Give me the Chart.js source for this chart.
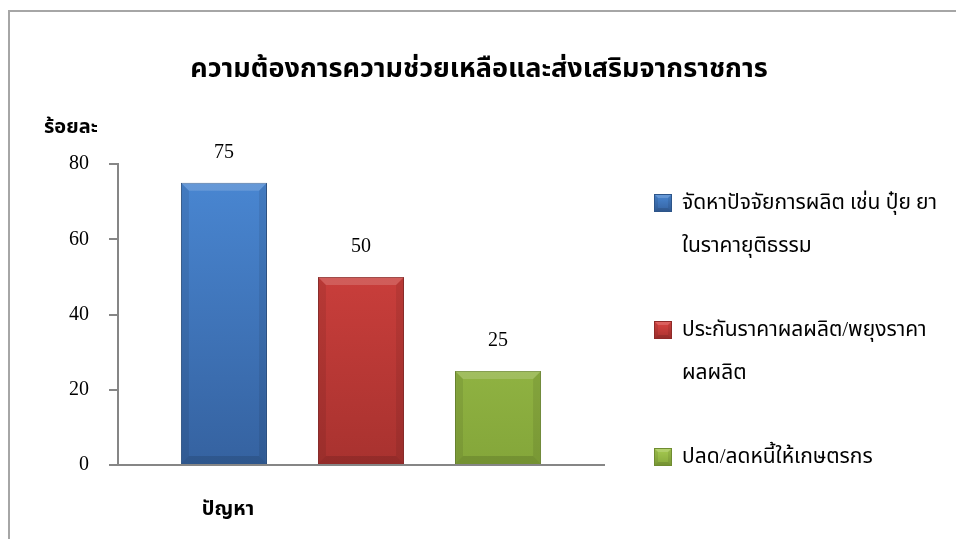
<!DOCTYPE html>
<html>
<head>
<meta charset="utf-8">
<script src="https://cdn.jsdelivr.net/npm/chart.js@4.4.1/dist/chart.umd.min.js"></script>
<style>
    body { margin: 0; background: #fff; }
    #wrap { position: relative; width: 956px; height: 539px; }
    #frame { position: absolute; left: 8px; top: 10px; right: -4px; bottom: -4px; border-left: 2px solid #a6a6a6; border-top: 2px solid #a6a6a6; }
    canvas { position: absolute; left: 0; top: 0; }
</style>
</head>
<body>
<div id="wrap">
    <div id="frame"></div>
    <canvas id="chart" width="956" height="539"></canvas>
</div>
<script>
// ข้อมูลของกราฟ
const chartTitle = 'ความต้องการความช่วยเหลือและส่งเสริมจากราชการ';
const yAxisName = 'ร้อยละ';
const categories = ['ปัญหา'];
const seriesLabels = [
    ['จัดหาปัจจัยการผลิต เช่น ปุ๋ย ยา', 'ในราคายุติธรรม'],
    ['ประกันราคาผลผลิต/พยุงราคา', 'ผลผลิต'],
    ['ปลด/ลดหนี้ให้เกษตรกร']
];
const seriesValues = [75, 50, 25];
const yTicks = [0, 20, 40, 60, 80];
const colorsTop = ['#4a88d4', '#dc4542', '#a8cc52'];
const colorsBottom = ['#3562a0', '#a8322f', '#84a63a'];
const colorsBorder = ['#2d5589', '#8e2a28', '#6f8c31'];

const thaiFont = "'Liberation Serif', 'Noto Sans Thai', 'Noto Serif Thai', serif";

// ไล่สีแท่งกราฟตามพื้นที่กราฟ
function barGradient(i) {
    return function (ctx) {
        const area = ctx.chart.chartArea;
        if (!area) return colorsTop[i];
        const g = ctx.chart.ctx.createLinearGradient(0, area.top, 0, area.bottom);
        g.addColorStop(0, colorsTop[i]);
        g.addColorStop(1, colorsBottom[i]);
        return g;
    };
}

// ขอบนูนของแท่ง (ด้านบนสว่าง ด้านข้างเข้ม)
function drawBevel(ctx, x0, x1, y0, y1, b) {
    ctx.fillStyle = 'rgba(255,255,255,0.16)';
    ctx.beginPath();
    ctx.moveTo(x0, y0); ctx.lineTo(x1, y0); ctx.lineTo(x1 - b, y0 + b); ctx.lineTo(x0 + b, y0 + b);
    ctx.closePath(); ctx.fill();
    ctx.fillStyle = 'rgba(0,0,0,0.08)';
    ctx.beginPath();
    ctx.moveTo(x0, y0); ctx.lineTo(x0 + b, y0 + b); ctx.lineTo(x0 + b, y1 - b); ctx.lineTo(x0, y1);
    ctx.closePath(); ctx.fill();
    ctx.beginPath();
    ctx.moveTo(x1, y0); ctx.lineTo(x1 - b, y0 + b); ctx.lineTo(x1 - b, y1 - b); ctx.lineTo(x1, y1);
    ctx.closePath(); ctx.fill();
    ctx.fillStyle = 'rgba(0,0,0,0.12)';
    ctx.beginPath();
    ctx.moveTo(x0, y1); ctx.lineTo(x0 + b, y1 - b); ctx.lineTo(x1 - b, y1 - b); ctx.lineTo(x1, y1);
    ctx.closePath(); ctx.fill();
}

// ตัวเขียนข้อความเพิ่มเติม: ชื่อกราฟ ชื่อแกน ค่าบนแท่ง และคำอธิบาย
const extrasPlugin = {
    id: 'extras',
    afterDatasetsDraw(chart) {
        const ctx = chart.ctx;
        ctx.save();

        // ขอบนูนบนแท่ง
        chart.data.datasets.forEach((ds, i) => {
            const bar = chart.getDatasetMeta(i).data[0];
            const half = bar.width / 2;
            drawBevel(ctx, bar.x - half, bar.x + half, bar.y, bar.base, 8);
        });

        ctx.fillStyle = '#000';
        ctx.textBaseline = 'middle';

        // ชื่อกราฟ
        ctx.font = 'bold 27px ' + thaiFont;
        ctx.textAlign = 'center';
        ctx.fillText(chartTitle, 479, 70);

        // ชื่อแกน y
        ctx.font = 'bold 20px ' + thaiFont;
        ctx.textAlign = 'left';
        ctx.fillText(yAxisName, 44, 128);

        // ชื่อหมวดหมู่
        ctx.textAlign = 'center';
        ctx.fillText(categories[0], 228, 510);

        // ค่าบนแท่ง
        ctx.font = '20px ' + thaiFont;
        chart.data.datasets.forEach((ds, i) => {
            const bar = chart.getDatasetMeta(i).data[0];
            ctx.fillText(String(ds.data[0]), bar.x, bar.y - 30);
        });

        // คำอธิบายสัญลักษณ์
        let y = 203;
        chart.data.datasets.forEach((ds, i) => {
            const g = ctx.createLinearGradient(0, y - 9, 0, y + 9);
            g.addColorStop(0, colorsTop[i]);
            g.addColorStop(1, colorsBottom[i]);
            ctx.fillStyle = g;
            ctx.fillRect(654, y - 9, 18, 18);
            drawBevel(ctx, 654, 672, y - 9, y + 9, 4);
            ctx.strokeStyle = colorsBorder[i];
            ctx.lineWidth = 1;
            ctx.strokeRect(654.5, y - 8.5, 17, 17);
            ctx.fillStyle = '#000';
            ctx.textAlign = 'left';
            ctx.font = '21px ' + thaiFont;
            ds.label.forEach((line, k) => {
                ctx.fillText(line, 682, y + k * 43);
            });
            y += 127;
        });
        ctx.restore();
    }
};

const datasets = seriesValues.map((v, i) => ({
    label: seriesLabels[i],
    data: [v],
    backgroundColor: barGradient(i),
    borderColor: colorsBorder[i],
    borderWidth: 1,
    categoryPercentage: 0.846,
    barPercentage: 0.628
}));

new Chart(document.getElementById('chart'), {
    type: 'bar',
    data: { labels: categories, datasets: datasets },
    options: {
        responsive: false,
        animation: false,
        layout: { padding: { left: 0, top: 164, right: 352, bottom: 74 } },
        plugins: {
            legend: { display: false },
            title: { display: false },
            tooltip: { enabled: false }
        },
        scales: {
            x: {
                ticks: { display: false },
                grid: { display: false },
                border: { color: '#868686', width: 2 },
                afterFit(scale) { scale.height = 0; }
            },
            y: {
                min: 0,
                max: 80,
                afterBuildTicks(scale) { scale.ticks = yTicks.map(v => ({ value: v })); },
                ticks: {
                    color: '#000',
                    font: { family: thaiFont, size: 20 },
                    padding: 20
                },
                grid: { drawOnChartArea: false, tickLength: 9, color: '#868686', lineWidth: 2 },
                border: { color: '#868686', width: 2 },
                afterFit(scale) { scale.width = 118; }
            }
        }
    },
    plugins: [extrasPlugin]
});
</script>
</body>
</html>
